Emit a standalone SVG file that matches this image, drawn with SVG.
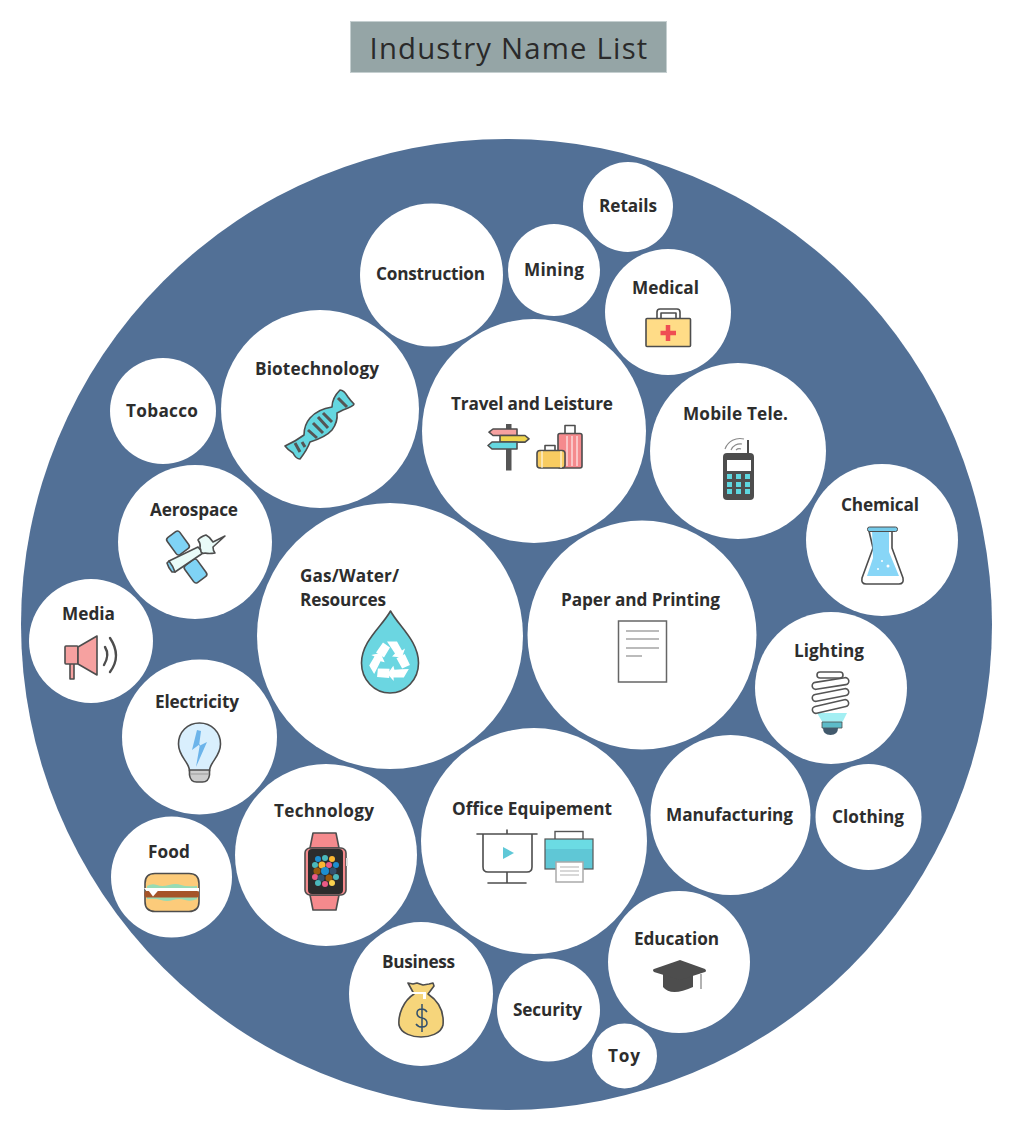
<svg xmlns="http://www.w3.org/2000/svg" width="1013" height="1131" viewBox="0 0 1013 1131">
<style>
.n{fill:#fff}
.l{font-family:"Open Sans","Noto Sans",sans-serif;font-size:17.2px;font-weight:700;fill:#2d2d2d;text-anchor:middle}
.o{stroke:#4d4d4d;stroke-width:1.6;stroke-linejoin:round;stroke-linecap:round}
.g{fill:none;stroke:#4d4d4d;stroke-width:1.6;stroke-linecap:round;stroke-linejoin:round}
</style>
<defs><path id="rc" d="M-14-9L-7-19L0-14L-6-4ZM-3-20H7L12-11L15-13L12-4L2-5L5-8L1-14Z" fill="#fff"/></defs>
<rect width="1013" height="1131" fill="#fff"/>
<g id="title">
<rect x="350.500" y="21.500" width="316" height="51" fill="#95a5a6" stroke="#c5cfd0"/>
<text x="509" y="59" font-family="'Open Sans','Noto Sans',sans-serif" font-size="29.300" letter-spacing="1.200" fill="#2a2a2a" text-anchor="middle">Industry Name List</text>
</g>
<circle id="background" cx="506.500" cy="624.500" r="485.500" fill="#527096"/>
<g id="retails"><circle class="n" cx="628" cy="207" r="45"/><text class="l" x="628" y="212" textLength="58">Retails</text></g>
<g id="construction"><circle class="n" cx="431.500" cy="275" r="71.500"/><text class="l" x="430.500" y="280" textLength="109">Construction</text></g>
<g id="mining"><circle class="n" cx="554" cy="270" r="46"/><text class="l" x="554" y="276" textLength="60">Mining</text></g>
<g id="medical"><circle class="n" cx="668" cy="312" r="63"/><text class="l" x="665.500" y="294" textLength="67">Medical</text>
<path class="o" d="M657 320v-8q0-3 3-3h17q3 0 3 3v8M661 320v-7h15v7" fill="#fff"/>
<rect class="o" x="646" y="318.500" width="44.500" height="28" rx="1" fill="#ffdc87"/>
<path d="M668 325v16M660.500 333h15.500" stroke="#ef4e53" stroke-width="4.500" fill="none"/></g>
<g id="travel"><circle class="n" cx="534" cy="431" r="112"/><text class="l" x="532" y="410" textLength="162">Travel and Leisture</text>
<rect x="506" y="424" width="5.500" height="46.500" fill="#555"/>
<path class="o" d="M493 429h24v6.500h-24l-4-3.300z" fill="#f6a1a0"/>
<path class="o" d="M500 435.500h25l4 3.300-4 3.300h-25z" fill="#f0d54e"/>
<path class="o" d="M492 442h25v7h-25l-4-3.500z" fill="#64d7e0"/>
<path class="g" d="M565 434v-8.500h10v8.500M545 451v-5.500h10v5.500" fill="#fff"/>
<rect class="o" x="558" y="433.500" width="24" height="34.500" rx="2" fill="#f58a8d"/>
<path d="M567 436v30M572 436v30M577 436v30" stroke="#fff" stroke-width="1"/>
<rect class="o" x="537" y="450.500" width="28" height="17.500" rx="3" fill="#f8cc61"/>
<path d="M542 451v17M561 451v17" stroke="#fff" stroke-width="1"/></g>
<g id="biotech"><circle class="n" cx="320" cy="409" r="99"/><text class="l" x="317" y="374.500" textLength="124">Biotechnology</text>
<path class="o" d="M285 446Q296 441 304 435Q304 425 310 418Q318 409 332 407Q332 398 340 390Q344 390 348 397Q350 400 354 404Q354 406 343 410L337 413Q338 422 332 430Q326 437 310 442Q307 450 300 459Q296 459 293 453Q288 450 285 446Z" fill="#64d7e0"/>
<path d="M308 430l9 8M313 423l10 10M318 417l10 11M323 413l9 9M338 398l9 9M295 443l5 9M302 442l3 5" stroke="#555" stroke-width="3"/></g>
<g id="tobacco"><circle class="n" cx="163" cy="411" r="53"/><text class="l" x="162" y="416.500" textLength="72">Tobacco</text></g>
<g id="mobile"><circle class="n" cx="738" cy="451" r="88"/><text class="l" x="735.500" y="419.500" textLength="105">Mobile Tele.</text>
<path d="M748 440v15" stroke="#4d4d4d" stroke-width="2"/>
<rect x="723" y="453" width="31" height="47" rx="4" fill="#4d4d4d"/>
<rect x="727" y="460" width="24" height="11" fill="#fff"/>
<g fill="#5ed6de"><rect x="727" y="474" width="5" height="5"/><rect x="736" y="474" width="5" height="5"/><rect x="745" y="474" width="5" height="5"/><rect x="727" y="482" width="5" height="5"/><rect x="736" y="482" width="5" height="5"/><rect x="745" y="482" width="5" height="5"/><rect x="727" y="489" width="5" height="5"/><rect x="736" y="489" width="5" height="5"/><rect x="745" y="489" width="5" height="5"/></g>
<path d="M725 449a16 16 0 0 1 19-10M731 450a10 10 0 0 1 11-6M736 450a5 5 0 0 1 5-1" fill="none" stroke="#888" stroke-width="1.100"/></g>
<g id="chemical"><circle class="n" cx="882" cy="540" r="76"/><text class="l" x="880" y="511" textLength="78">Chemical</text>
<path class="o" d="M869 531h23v17l11 30q1 6-4 6h-33q-5 0-4-6l11-30z" fill="#fff"/>
<path d="M872 530h17v22l10 24h-32l6-18z" fill="#88d6f7"/>
<rect x="867.500" y="527" width="30" height="4.500" rx="2" fill="#75cbea" stroke="#4d4d4d"/>
<g fill="#fff"><circle cx="888" cy="566" r="1.500"/><circle cx="882" cy="561" r="1"/><circle cx="878" cy="569" r="1"/></g></g>
<g id="aerospace"><circle class="n" cx="195" cy="542" r="77"/><text class="l" x="194" y="516" textLength="88">Aerospace</text>
<rect class="o" x="170.250" y="532.500" width="15.500" height="21" rx="3" transform="rotate(-36 178 543)" fill="#7fd3f5"/>
<rect class="o" x="187.750" y="560.500" width="15.500" height="21" rx="3" transform="rotate(-36 195.500 571)" fill="#7fd3f5"/>
<path class="o" d="M169 561l29-14 5 6-28 19q-5-3-6-11z" fill="#e9fbf8"/>
<path class="o" d="M169 561q4 5 6 11l-3 0q-4-5-5-9z" fill="#7fd3f5"/>
<path class="o" d="M198 540q2-3 8-5 4 2 7 7l12-6-12 11q0 4 2 6-6 1-10 0-2 1-4-1 0-3-1-4 1-4-2-8z" fill="#e9fbf8"/></g>
<g id="gas"><circle class="n" cx="390" cy="636" r="133"/><text class="l" x="300" y="582" style="text-anchor:start" textLength="99">Gas/Water/</text><text class="l" x="300" y="606" style="text-anchor:start" textLength="86">Resources</text>
<path class="o" d="M390.500 611c8 15 28 30 28 52a28.500 30 0 0 1-57 0c0-22 21-37 29-52z" fill="#6bd6e1"/>
<g transform="translate(390 661.500)"><use href="#rc"/><use href="#rc" transform="rotate(120)"/><use href="#rc" transform="rotate(240)"/></g></g>
<g id="paper"><circle class="n" cx="642" cy="635" r="114.500"/><text class="l" x="640.500" y="605.500" textLength="159">Paper and Printing</text>
<rect x="618.500" y="621" width="48" height="61" fill="#fff" stroke="#666" stroke-width="1.500"/>
<path d="M626 631h33M626 639h33M626 648h33M626 656h16" stroke="#bbb" stroke-width="2"/></g>
<g id="lighting"><circle class="n" cx="831" cy="688" r="76"/><text class="l" x="829" y="657" textLength="70">Lighting</text>
<path d="M817 713h30l-5 10h-19z" fill="#a3eff3"/><path d="M822 722h20v6h-20z" fill="#5dbcc9" stroke="#4d4d4d" stroke-width=".8"/><path d="M823 728h15q0 7-7.500 7t-7.500-7z" fill="#41596c"/>
<g fill="#fff" stroke="#555" stroke-width="1.600"><rect x="817" y="672" width="26" height="6" rx="3"/><rect x="812" y="680" width="37" height="7" rx="3.500" transform="rotate(-9 830.500 683.500)"/><rect x="812" y="691.500" width="37" height="7" rx="3.500" transform="rotate(-11 830.500 695)"/><rect x="812" y="703" width="37" height="7" rx="3.500" transform="rotate(-13 830.500 706.500)"/></g></g>
<g id="media"><circle class="n" cx="91" cy="641" r="62"/><text class="l" x="88.500" y="619.500" textLength="53">Media</text>
<path class="o" d="M70 658v21h4v-21" fill="#f6a1a0"/><rect class="o" x="65" y="646" width="13" height="18" rx="1" fill="#f6a1a0"/>
<path class="o" d="M78 647l19-11v39l-19-11z" fill="#f6a1a0"/>
<path d="M105 647q5 8-1 18M110 638q12 18 0 34" fill="none" stroke="#4d4d4d" stroke-width="2.400" stroke-linecap="round"/></g>
<g id="electricity"><circle class="n" cx="199.500" cy="737" r="77.500"/><text class="l" x="197" y="707.500" textLength="84">Electricity</text>
<path class="o" d="M199.500 723c12 0 21 9 21 21 0 13-11 18-11 27h-20c0-9-11-14-11-27 0-12 9-21 21-21z" fill="#d9effd"/>
<path d="M197 730l-5 20 8-6-4 23 11-25-8 4 2-15z" fill="#6cb4ea"/>
<path class="o" d="M189.500 770h20v5q-1 7-7 7h-6q-6 0-7-7z" fill="#ccc" stroke-width="1.300"/><path d="M190 774h19" stroke="#999"/></g>
<g id="manufacturing"><circle class="n" cx="730.500" cy="815" r="80"/><text class="l" x="729.500" y="820.500" textLength="127">Manufacturing</text></g>
<g id="clothing"><circle class="n" cx="868.500" cy="817" r="53"/><text class="l" x="868" y="822.500" textLength="72">Clothing</text></g>
<g id="office"><circle class="n" cx="534" cy="841" r="113"/><text class="l" x="532" y="815" textLength="160">Office Equipement</text>
<path class="g" d="M477 834h60M507 830v4M483 834v33q0 5 5 5h39q5 0 5-5v-33M507 872v11M488 883h38" stroke-width="1.500"/>
<path d="M503 847l11 6-11 6z" fill="#5fc8d7"/>
<rect x="555" y="831.500" width="28" height="10" fill="#fff" stroke="#555" stroke-width="1.400"/>
<rect x="545" y="839" width="48" height="30" fill="#5fc7d6"/><rect x="545" y="839" width="48" height="10" fill="#6bdbe3"/>
<rect x="545" y="839" width="48" height="30" fill="none" stroke="#555" stroke-width="1.200"/>
<rect x="556" y="862" width="27" height="20" fill="#fff" stroke="#aaa" stroke-width="1.500"/>
<path d="M560 867h19M560 871h19M560 875h19" stroke="#ccc" stroke-width="1.300"/></g>
<g id="technology"><circle class="n" cx="326" cy="855" r="91"/><text class="l" x="324" y="816.500" textLength="100">Technology</text>
<path class="o" d="M313 833h23l3 15h-29zM310 895h29l-3 15h-23z" fill="#f58a8d"/>
<rect class="o" x="305" y="848" width="41" height="47" rx="5" fill="#f58a8d"/>
<rect x="308" y="849" width="35" height="45" rx="4" fill="#2c2c2c"/>
<rect x="346" y="858" width="2" height="8" fill="#ddd"/>
<g><circle cx="318" cy="859" r="3" fill="#1d8ed0"/><circle cx="325" cy="858" r="3" fill="#4bb8bb"/><circle cx="332" cy="859" r="3" fill="#fbb631"/><circle cx="315" cy="865" r="3" fill="#4bb8bb"/><circle cx="322" cy="865" r="3.500" fill="#fbb631"/><circle cx="329" cy="865" r="3" fill="#ea5a86"/><circle cx="336" cy="865" r="3" fill="#1d8ed0"/><circle cx="317" cy="871" r="3.500" fill="#99590e"/><circle cx="325" cy="871" r="4" fill="#1d8ed0"/><circle cx="333" cy="871" r="3.500" fill="#33506c"/><circle cx="315" cy="877" r="3" fill="#ea5a86"/><circle cx="321" cy="878" r="3.500" fill="#33506c"/><circle cx="329" cy="878" r="3.500" fill="#99590e"/><circle cx="336" cy="877" r="3" fill="#4bb8bb"/><circle cx="318" cy="883" r="3" fill="#4bb8bb"/><circle cx="325" cy="884" r="3" fill="#ea5a86"/><circle cx="332" cy="883" r="3" fill="#fbd24f"/></g></g>
<g id="food"><circle class="n" cx="171.500" cy="877" r="60.500"/><text class="l" x="169" y="858" textLength="42">Food</text>
<path class="o" d="M155 873.500h34q10 0 10 10v18q0 10-10 10h-34q-10 0-10-10v-18q0-10 10-10z" fill="#fccb7a"/>
<path d="M147 886q5-3 10-1t12 0 12 0 16 1v5h-50zM147 897h50v2q-6 3-12 1t-12 0-12 0-14-1z" fill="#97dbb4"/>
<path d="M144 888h55v3.500h-46l-3 4z" fill="#fff"/><rect x="144.500" y="891" width="54.500" height="6.500" rx="2" fill="#a55429"/>
<path d="M147 888.500h13l-7 8z" fill="#fff"/></g>
<g id="education"><circle class="n" cx="679" cy="962" r="71"/><text class="l" x="676.500" y="944.500" textLength="85">Education</text>
<path d="M663 973v14q8 10 30 0v-14l-13 4z" fill="#4d4d4d"/><path d="M680 960l25 9q2 2 0 3l-25 8-26-8q-2-2 0-3z" fill="#4d4d4d"/>
<path d="M701 974v15" stroke="#999" stroke-width="1.500"/></g>
<g id="business"><circle class="n" cx="421" cy="994" r="72"/><text class="l" x="418.500" y="967.500" textLength="73">Business</text>
<path class="o" d="M408 983l5 1 4-1 6 2 6-1 4-1 1 3-6 8c12 8 16 20 15 31-2 9-14 12-22 12-8 0-20-3-22-12-1-10 4-24 15-31z" fill="#f6d57b"/>
<path d="M409 993h17" stroke="#fff" stroke-width="2"/><path d="M423 994h3v5h-3z" fill="#fff"/>
<path d="M427 1012q-2-3-5-3-5 0-5 4t5 5 5 5-5 4q-4 0-6-3M422 1004v28" fill="none" stroke="#33506c" stroke-width="1.500"/></g>
<g id="security"><circle class="n" cx="548.500" cy="1010" r="51.500"/><text class="l" x="547.500" y="1015.500" textLength="69">Security</text></g>
<g id="toy"><circle class="n" cx="624.500" cy="1056" r="32.500"/><text class="l" x="624" y="1062" textLength="32">Toy</text></g>
</svg>
